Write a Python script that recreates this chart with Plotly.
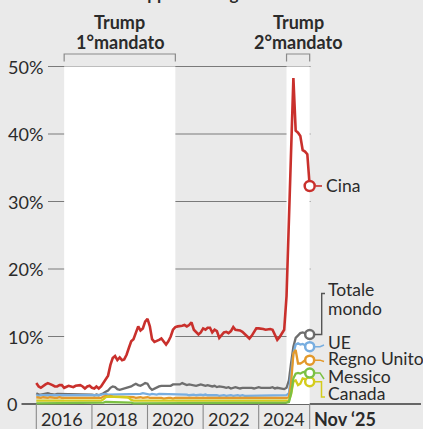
import pandas as pd
import plotly.graph_objects as go

# ---------------- DATA ----------------
months = pd.date_range("2016-01-01", "2025-11-01", freq="MS")

cina = [
    3.1, 2.6, 2.4, 2.7, 2.9, 3.1, 3.0, 2.8, 2.6, 2.6, 2.8, 2.8,
    2.4, 2.5, 2.7, 2.6, 2.5, 2.7, 2.8, 2.8, 2.6, 2.3, 2.6, 2.7,
    2.4, 2.3, 2.6, 2.3, 2.6, 3.1, 3.6, 4.2, 5.8, 6.8, 7.1, 6.5,
    6.9, 6.5, 6.6, 7.3, 8.3, 9.3, 9.6, 10.5, 11.5, 10.9, 11.2, 12.2,
    12.6, 11.5, 9.6, 9.2, 9.3, 9.5, 9.7, 9.2, 8.8, 9.3, 10.0, 11.0,
    11.4, 11.5, 11.5, 11.6, 11.7, 11.5, 11.7, 12.1, 11.0, 10.7, 10.3, 10.6,
    11.2, 11.0, 11.3, 11.3, 10.6, 11.0, 10.8, 9.8, 10.3, 10.6, 10.7, 10.5,
    10.8, 11.4, 11.0, 11.0, 10.9, 10.7, 10.4, 10.0, 9.7, 10.1, 10.6, 11.2,
    11.2, 11.2, 11.1, 11.0, 11.1, 11.1, 11.0, 10.3, 9.5, 9.9, 10.5, 11.0,
    16.0, 27.0, 37.5, 48.3, 40.5, 40.2, 39.7, 37.6, 37.4, 37.0, 32.3,
]

totale_mondo = [
    1.6, 1.4, 1.4, 1.5, 1.5, 1.6, 1.5, 1.4, 1.4, 1.5, 1.5, 1.5,
    1.4, 1.4, 1.5, 1.5, 1.4, 1.5, 1.5, 1.5, 1.4, 1.4, 1.4, 1.5,
    1.4, 1.3, 1.4, 1.3, 1.4, 1.6, 1.8, 2.0, 2.4, 2.6, 2.5, 2.2,
    2.1, 2.2, 2.2, 2.3, 2.5, 2.6, 2.8, 3.0, 2.8, 2.7, 2.9, 3.1,
    3.0, 2.4, 2.1, 2.3, 2.5, 2.6, 2.7, 2.7, 2.8, 2.8, 2.7, 2.9,
    2.9, 3.0, 2.9, 3.1, 3.0, 2.8, 2.9, 2.8, 2.7, 2.7, 2.8, 2.9,
    2.8, 2.7, 2.8, 2.7, 2.6, 2.7, 2.5, 2.6, 2.6, 2.5, 2.4, 2.5,
    2.3, 2.4, 2.5, 2.4, 2.3, 2.4, 2.4, 2.5, 2.5, 2.4, 2.3, 2.4,
    2.5, 2.4, 2.4, 2.3, 2.4, 2.4, 2.5, 2.3, 2.4, 2.3, 2.2, 2.2,
    2.4, 3.5, 6.0, 8.5, 9.8, 10.2, 10.5, 10.6, 10.5, 10.4, 10.3,
]

ue = [
    1.3, 1.2, 1.3, 1.3, 1.2, 1.3, 1.3, 1.2, 1.3, 1.3, 1.2, 1.3,
    1.3, 1.2, 1.3, 1.3, 1.3, 1.2, 1.3, 1.3, 1.2, 1.3, 1.3, 1.2,
    1.3, 1.2, 1.3, 1.3, 1.4, 1.5, 1.5, 1.4, 1.4, 1.5, 1.4, 1.4,
    1.4, 1.4, 1.5, 1.4, 1.4, 1.5, 1.4, 1.4, 1.5, 1.5, 1.6, 1.5,
    1.5, 1.4, 1.5, 1.4, 1.4, 1.5, 1.5, 1.4, 1.4, 1.5, 1.4, 1.5,
    1.5, 1.4, 1.4, 1.5, 1.4, 1.4, 1.3, 1.4, 1.4, 1.3, 1.4, 1.4,
    1.3, 1.4, 1.3, 1.3, 1.4, 1.3, 1.3, 1.2, 1.3, 1.3, 1.2, 1.3,
    1.3, 1.2, 1.3, 1.3, 1.2, 1.3, 1.2, 1.2, 1.3, 1.2, 1.2, 1.3,
    1.2, 1.2, 1.3, 1.2, 1.2, 1.3, 1.2, 1.2, 1.2, 1.3, 1.2, 1.2,
    1.3, 1.6, 4.5, 7.5, 8.8, 9.0, 8.8, 8.9, 8.7, 8.6, 8.5,
]

regno_unito = [
    1.0, 0.9, 0.9, 1.0, 0.9, 0.9, 1.0, 0.9, 0.9, 0.9, 1.0, 0.9,
    0.9, 0.9, 1.0, 0.9, 0.9, 0.9, 0.9, 1.0, 0.9, 0.9, 0.9, 0.9,
    0.9, 0.9, 0.9, 1.0, 0.9, 1.1, 1.2, 1.1, 1.2, 1.1, 1.1, 1.0,
    1.0, 1.1, 1.0, 1.0, 1.1, 1.0, 1.0, 0.9, 1.0, 1.0, 0.9, 1.0,
    1.0, 0.9, 0.9, 1.0, 0.9, 0.9, 0.9, 0.8, 0.9, 0.9, 0.9, 0.8,
    0.9, 0.9, 0.8, 0.9, 0.9, 0.8, 0.9, 0.9, 0.8, 0.9, 0.8, 0.9,
    0.8, 0.9, 0.8, 0.8, 0.9, 0.8, 0.8, 0.9, 0.8, 0.8, 0.8, 0.9,
    0.8, 0.8, 0.9, 0.8, 0.8, 0.8, 0.9, 0.8, 0.8, 0.8, 0.9, 0.8,
    0.8, 0.8, 0.8, 0.9, 0.8, 0.8, 0.8, 0.8, 0.9, 0.8, 0.8, 0.8,
    0.9, 1.0, 3.0, 7.5, 8.0, 6.0, 6.0, 6.2, 6.5, 6.5, 6.5,
]

messico = [
    0.1, 0.1, 0.1, 0.1, 0.1, 0.1, 0.1, 0.1, 0.1, 0.1, 0.1, 0.1,
    0.1, 0.1, 0.1, 0.1, 0.1, 0.1, 0.1, 0.1, 0.1, 0.1, 0.1, 0.1,
    0.1, 0.1, 0.1, 0.1, 0.1, 0.2, 0.3, 0.3, 0.3, 0.3, 0.3, 0.3,
    0.3, 0.3, 0.3, 0.3, 0.3, 0.2, 0.1, 0.1, 0.1, 0.1, 0.1, 0.1,
    0.1, 0.1, 0.1, 0.1, 0.1, 0.1, 0.1, 0.1, 0.1, 0.1, 0.1, 0.1,
    0.1, 0.1, 0.1, 0.1, 0.1, 0.1, 0.1, 0.1, 0.1, 0.1, 0.1, 0.1,
    0.1, 0.1, 0.1, 0.1, 0.1, 0.1, 0.1, 0.1, 0.1, 0.1, 0.1, 0.1,
    0.1, 0.1, 0.1, 0.1, 0.1, 0.1, 0.1, 0.1, 0.1, 0.1, 0.1, 0.1,
    0.1, 0.1, 0.1, 0.1, 0.1, 0.1, 0.1, 0.1, 0.1, 0.1, 0.1, 0.1,
    0.2, 0.3, 1.5, 3.8, 4.5, 4.6, 4.5, 4.7, 4.8, 4.7, 4.6,
]

canada = [
    0.5, 0.5, 0.4, 0.5, 0.5, 0.4, 0.5, 0.5, 0.5, 0.4, 0.5, 0.5,
    0.5, 0.4, 0.5, 0.5, 0.5, 0.5, 0.4, 0.5, 0.5, 0.5, 0.4, 0.5,
    0.5, 0.5, 0.4, 0.5, 0.5, 0.7, 1.0, 1.1, 1.1, 1.0, 1.1, 1.0,
    1.0, 1.0, 1.1, 1.0, 0.9, 0.6, 0.5, 0.5, 0.4, 0.5, 0.5, 0.4,
    0.5, 0.4, 0.5, 0.5, 0.4, 0.5, 0.5, 0.5, 0.5, 0.4, 0.5, 0.4,
    0.4, 0.5, 0.4, 0.4, 0.5, 0.4, 0.4, 0.4, 0.5, 0.4, 0.4, 0.4,
    0.4, 0.4, 0.4, 0.5, 0.4, 0.4, 0.4, 0.4, 0.4, 0.4, 0.4, 0.4,
    0.4, 0.4, 0.4, 0.4, 0.4, 0.4, 0.4, 0.4, 0.4, 0.4, 0.4, 0.4,
    0.4, 0.4, 0.4, 0.4, 0.4, 0.4, 0.4, 0.4, 0.4, 0.4, 0.4, 0.4,
    0.4, 0.5, 1.4, 3.3, 3.5, 2.8, 3.0, 3.8, 3.7, 3.5, 3.3,
]

y_ticks = [0, 10, 20, 30, 40, 50]
y_tick_labels = ["0", "10%", "20%", "30%", "40%", "50%"]
x_ticks = ["2016-01-01", "2018-01-01", "2020-01-01", "2022-01-01", "2024-01-01", "2025-11-01"]
x_tick_labels = ["2016", "2018", "2020", "2022", "2024", "<b>Nov ‘25</b>"]
mandati = [("2017-01-01", "2021-01-01", "1°mandato"), ("2025-01-01", "2025-11-01", "2°mandato")]

# ---------------- STYLE ----------------
W, H = 423, 429
BG = "#eaeaea"
TXT = "#2b2b2b"
FONT = "Lato"
series = [
    ("Totale mondo", totale_mondo, "#6e6e6e"),
    ("UE", ue, "#78aee0"),
    ("Regno Unito", regno_unito, "#e3992b"),
    ("Canada", canada, "#d4cc1c"),
    ("Messico", messico, "#7bc043"),
    ("Cina", cina, "#c9302c"),
]

def px(x):
    return x / W

def py(y):
    return 1 - y / H

YMIN, YMAX = -25 / 6.75, 404 / 6.75

fig = go.Figure()

for name, vals, col in series:
    fig.add_trace(go.Scatter(
        x=months, y=vals, mode="lines", name=name,
        line=dict(color=col, width=2.6 if name == "Cina" else 2.3),
        hoverinfo="skip", showlegend=False,
    ))
for name, vals, col in series:
    fig.add_trace(go.Scatter(
        x=[months[-1]], y=[vals[-1]], mode="markers",
        marker=dict(symbol="circle", size=10 if name == "Cina" else 9, color="white",
                    line=dict(color=col, width=2.5)),
        hoverinfo="skip", showlegend=False,
    ))

shapes = []
ann = []

# white bands for Trump terms + brackets + labels
for x0, x1, lab in mandati:
    mid = pd.Timestamp(x0) + (pd.Timestamp(x1) - pd.Timestamp(x0)) / 2
    shapes.append(dict(type="rect", xref="x", yref="y", x0=x0, x1=x1, y0=0, y1=50,
                       fillcolor="white", line=dict(width=0), layer="below"))
    shapes.append(dict(type="path", xref="x", yref="paper",
                       path=f"M {x0},{py(61.5)} L {x0},{py(54)} L {x1},{py(54)} L {x1},{py(61.5)}",
                       line=dict(color="#8a8a8a", width=1.2), layer="above"))
    ann.append(dict(x=mid, xref="x", y=py(22), yref="paper", text="<b>Trump</b>",
                    showarrow=False, font=dict(size=18, color=TXT, family=FONT),
                    xanchor="center", yanchor="middle"))
    ann.append(dict(x=mid, xref="x", y=py(41.5), yref="paper", text=f"<b>{lab}</b>",
                    showarrow=False, font=dict(size=18, color=TXT, family=FONT),
                    xanchor="center", yanchor="middle"))

# gridlines and y labels
for v, lab in zip(y_ticks, y_tick_labels):
    if v == 0:
        shapes.append(dict(type="line", xref="paper", yref="y", x0=px(21.5), x1=px(421), y0=0, y1=0,
                           line=dict(color="#3a3a3a", width=1.4), layer="below"))
        ann.append(dict(x=px(18.5), xref="paper", y=0, yref="y", text=lab, showarrow=False,
                        xanchor="right", yanchor="middle",
                        font=dict(size=18, color=TXT, family=FONT)))
    else:
        shapes.append(dict(type="line", xref="paper", yref="y", x0=px(48), x1=px(310.5), y0=v, y1=v,
                           line=dict(color="#7a7a7a", width=1.1), layer="below"))
        ann.append(dict(x=px(45), xref="paper", y=v, yref="y", text=lab, showarrow=False,
                        xanchor="right", yanchor="middle",
                        font=dict(size=18, color=TXT, family=FONT)))

# x ticks and labels
for t, lab in zip(x_ticks, x_tick_labels):
    shapes.append(dict(type="line", xref="x", yref="paper", x0=t, x1=t, y0=0, y1=py(404),
                       line=dict(color="#8a8a8a", width=1.1)))
    ann.append(dict(x=t, xref="x", xshift=2.5, y=py(418.5), yref="paper", text=lab,
                    showarrow=False, xanchor="left", yanchor="middle",
                    font=dict(size=18, color=TXT, family=FONT)))

# end labels
cols = {n: c for n, _, c in series}
last = {n: v[-1] for n, v, _ in series}

def ypix(v):
    return 404 - v * 6.75

LF = dict(size=17.5, color=TXT, family=FONT)

# Cina
yc = ypix(last["Cina"])
shapes.append(dict(type="line", xref="paper", yref="paper", x0=px(315.5), x1=px(322), y0=py(yc), y1=py(yc),
                   line=dict(color=cols["Cina"], width=1.6)))
ann.append(dict(x=px(323.5), y=py(yc), xref="paper", yref="paper", text="Cina", showarrow=False,
                xanchor="left", yanchor="middle", font=LF))

# Totale mondo
yt = ypix(last["Totale mondo"])
shapes.append(dict(type="path", xref="paper", yref="paper",
                   path=f"M {px(314.5)},{py(yt)} L {px(321.7)},{py(yt)} L {px(321.7)},{py(293.5)} L {px(325)},{py(293.5)}",
                   line=dict(color="#555555", width=1.4)))
ann.append(dict(x=px(325.5), y=py(289), xref="paper", yref="paper", text="Totale", showarrow=False,
                xanchor="left", yanchor="middle", font=LF))
ann.append(dict(x=px(325.5), y=py(308.5), xref="paper", yref="paper", text="mondo", showarrow=False,
                xanchor="left", yanchor="middle", font=LF))

# UE, Regno Unito, Messico
for name, ty in [("UE", 342), ("Regno Unito", 358.5), ("Messico", 376)]:
    ym = ypix(last[name])
    shapes.append(dict(type="path", xref="paper", yref="paper",
                       path=f"M {px(314.5)},{py(ym)} L {px(320)},{py(ym)} L {px(324)},{py(ty + 3)}",
                       line=dict(color=cols[name], width=1.5)))
    ann.append(dict(x=px(325.5), y=py(ty), xref="paper", yref="paper", text=name, showarrow=False,
                    xanchor="left", yanchor="middle", font=LF))

# Canada
yk = ypix(last["Canada"])
shapes.append(dict(type="path", xref="paper", yref="paper",
                   path=f"M {px(314.5)},{py(yk)} L {px(321.5)},{py(yk)} L {px(321.5)},{py(397)} L {px(325)},{py(397)}",
                   line=dict(color=cols["Canada"], width=1.5)))
ann.append(dict(x=px(325.5), y=py(393.5), xref="paper", yref="paper", text="Canada", showarrow=False,
                xanchor="left", yanchor="middle", font=LF))

# cropped title line at the very top (only descenders visible)
ann.append(dict(x=px(34), y=py(-7), xref="paper", yref="paper", text="<b>Tariffe medie applicate dagli Usa</b>",
                showarrow=False, xanchor="left", yanchor="middle",
                font=dict(size=17, color=TXT, family=FONT)))

fig.update_layout(
    width=W, height=H,
    margin=dict(l=0, r=0, t=0, b=0),
    paper_bgcolor=BG, plot_bgcolor=BG,
    showlegend=False,
    font=dict(family=FONT, color=TXT),
    xaxis=dict(type="date", range=["2014-09-11", "2029-11-29"], visible=False, fixedrange=True),
    yaxis=dict(range=[YMIN, YMAX], visible=False, fixedrange=True),
    shapes=shapes,
    annotations=ann,
)

fig.write_html(
    "out.html",
    config={"displayModeBar": False},
    post_script="document.body.style.margin='0';document.body.style.background='%s';" % BG,
)
